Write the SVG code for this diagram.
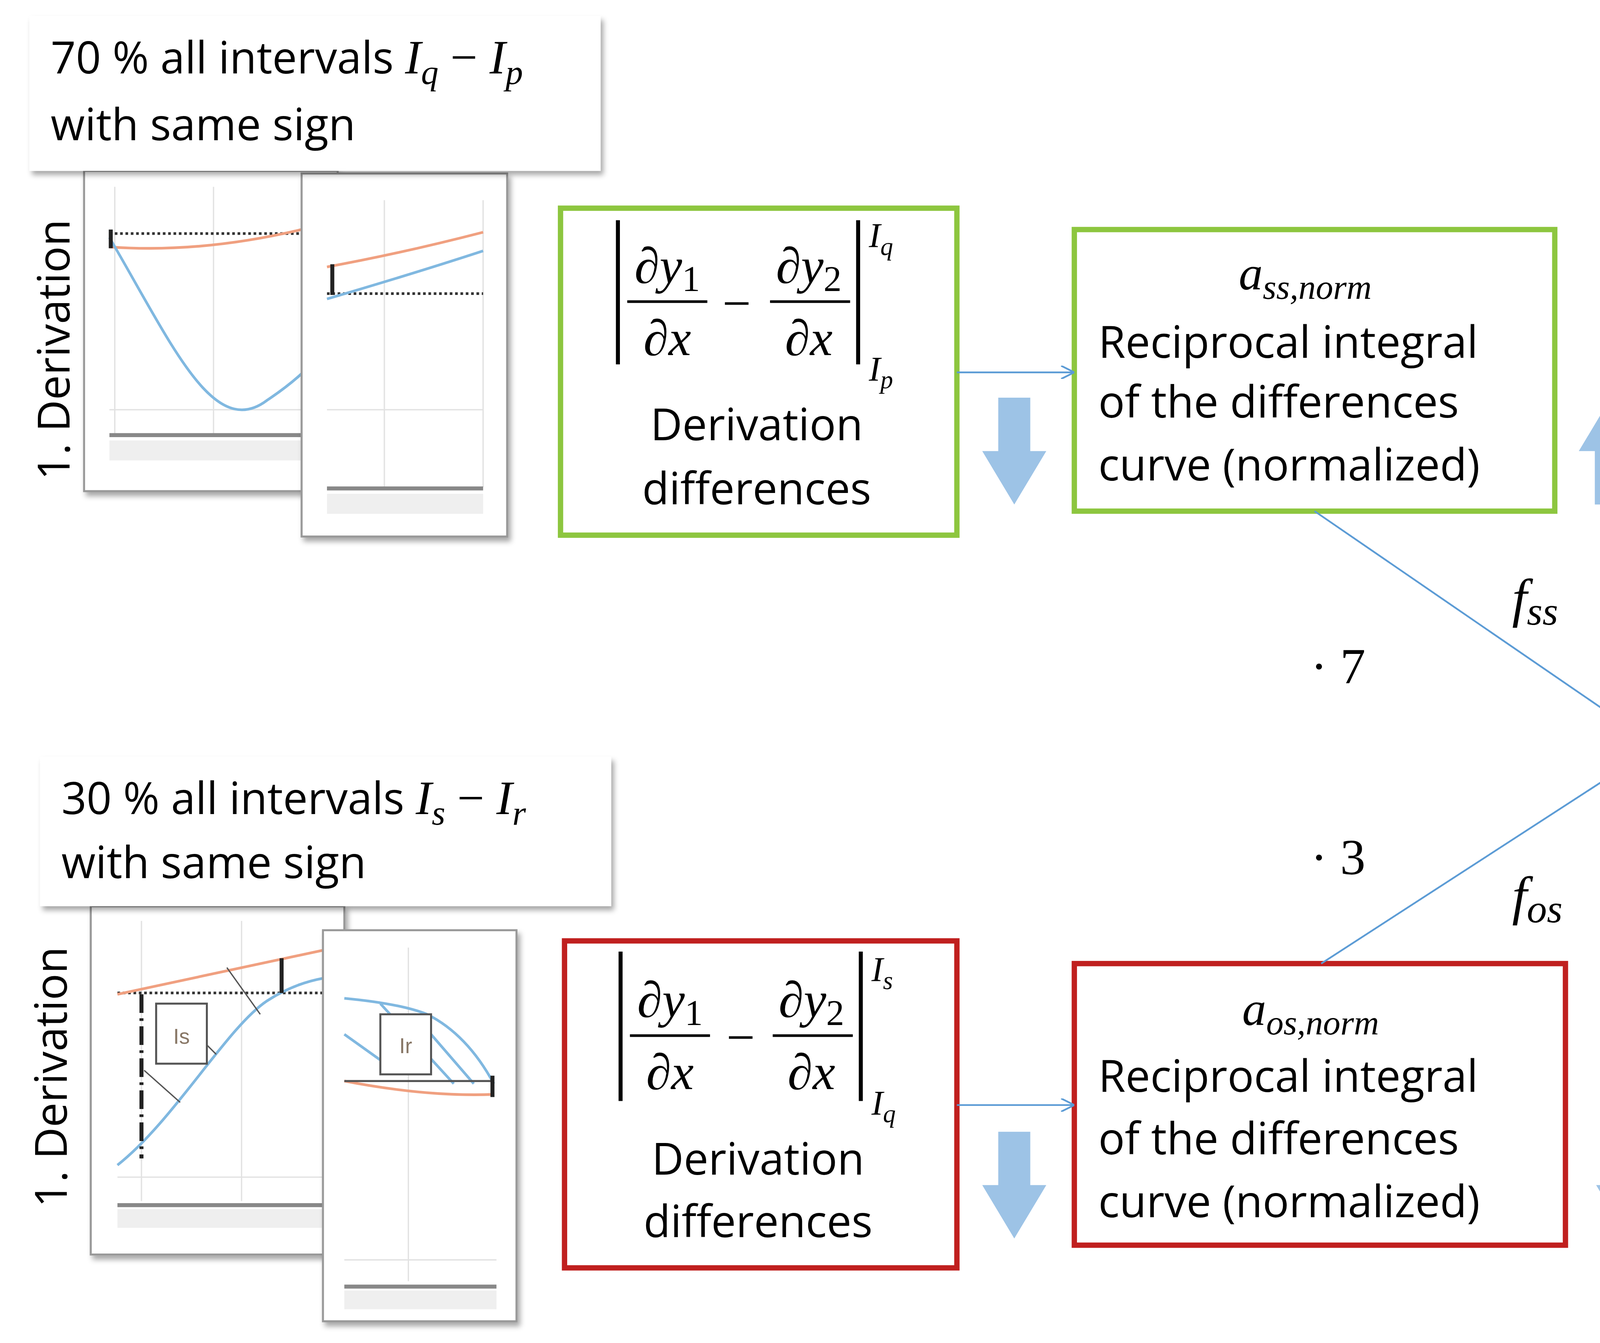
<svg xmlns="http://www.w3.org/2000/svg" width="5357" height="3438" viewBox="0 0 5357 3438">
<defs>
<style>
.t{font-family:"Open Sans","Noto Sans","Liberation Sans",sans-serif;font-size:33px;fill:#000}
.m{font-family:"Liberation Serif","DejaVu Serif",serif;font-style:italic;fill:#000}
.mr{font-family:"Liberation Serif","DejaVu Serif",serif;font-style:normal;fill:#000}
.b{font-weight:bold}
.thin{stroke:#5b9bd5;stroke-width:1.3;fill:none}
.g{fill:none;stroke:#8dc63f;stroke-width:4}
.r{fill:none;stroke:#c0201f;stroke-width:4}
.k{fill:none;stroke:#000;stroke-width:4}
.grid{stroke:#e2e2e2;stroke-width:1}
.or{stroke:#f0a080;stroke-width:2;fill:none}
.bl{stroke:#80b8e0;stroke-width:2;fill:none}
.dot{stroke:#333;stroke-width:2;stroke-dasharray:2 2}
.chart{fill:#fff;stroke:#999;stroke-width:1.5}
</style>
<filter id="sh" x="-10%" y="-10%" width="130%" height="130%"><feDropShadow dx="2" dy="3" stdDeviation="2" flood-color="#000" flood-opacity="0.35"/></filter>
<marker id="ah" viewBox="0 0 10 10" refX="10" refY="5" markerWidth="10" markerHeight="10" markerUnits="userSpaceOnUse" orient="auto"><path d="M0,0L10,5L0,10" fill="none" stroke="#5b9bd5" stroke-width="1.3"/></marker>
<path id="up" d="M-12,40V0H-24L0,-40L24,0H12V40Z" fill="#9dc3e6"/>
<path id="dn" d="M-12,-40V0H-24L0,40L24,0H12V-40Z" fill="#9dc3e6"/>
</defs>
<g transform="scale(3.4165)">
<g id="charts-top">
<rect class="chart" x="63" y="128" width="190" height="240" filter="url(#sh)"/>
<line class="grid" x1="86" y1="140" x2="86" y2="325"/><line class="grid" x1="160" y1="140" x2="160" y2="325"/><line class="grid" x1="82" y1="307" x2="226" y2="307"/>
<line class="dot" x1="82" y1="175" x2="226" y2="175"/>
<path class="or" d="M82,185 Q150,190 226,172"/>
<path class="bl" d="M82,178 C130,260 160,330 200,300 Q215,290 226,280"/>
<line x1="83" y1="172" x2="83" y2="186" stroke="#222" stroke-width="3"/>
<line x1="82" y1="326" x2="226" y2="326" stroke="#888" stroke-width="3"/>
<rect x="82" y="330" width="144" height="15" fill="#efefef"/>
<rect class="chart" x="226" y="130" width="154" height="272" filter="url(#sh)"/>
<line class="grid" x1="288" y1="150" x2="288" y2="365"/><line class="grid" x1="362" y1="150" x2="362" y2="365"/><line class="grid" x1="245" y1="307" x2="362" y2="307"/>
<line class="dot" x1="245" y1="220" x2="362" y2="220" stroke="#777"/>
<path class="or" d="M245,200 Q300,190 362,174"/>
<path class="bl" d="M245,224 Q310,205 362,188"/>
<line x1="249" y1="198" x2="249" y2="221" stroke="#222" stroke-width="3"/>
<line x1="245" y1="366" x2="362" y2="366" stroke="#888" stroke-width="3"/>
<rect x="245" y="370" width="117" height="15" fill="#efefef"/>
<text class="t" transform="translate(52,262) rotate(-90)" text-anchor="middle" font-size="32">1. Derivation</text>
</g>
<g id="label-top">
<rect x="22" y="12" width="428" height="116" fill="#fff" filter="url(#sh)"/>
<text class="t" x="38" y="55">70 % all intervals <tspan class="m" font-size="36">I</tspan><tspan class="m" font-size="26" dy="8">q</tspan><tspan class="mr" font-size="36" dy="-8"> − </tspan><tspan class="m" font-size="36">I</tspan><tspan class="m" font-size="26" dy="8">p</tspan></text>
<text class="t" x="38" y="105">with same sign</text>
</g>
<g id="charts-bottom">
<rect class="chart" x="68" y="679" width="190" height="261" filter="url(#sh)"/>
<line class="grid" x1="106" y1="690" x2="106" y2="900"/><line class="grid" x1="181" y1="690" x2="181" y2="900"/><line class="grid" x1="88" y1="882" x2="242" y2="882"/>
<line class="dot" x1="88" y1="744" x2="242" y2="744"/>
<path class="or" d="M88,745 L242,712"/>
<path class="bl" d="M88,873 C130,840 170,770 200,750 Q220,737 242,733"/>
<line x1="106" y1="745" x2="106" y2="868" stroke="#222" stroke-width="3" stroke-dasharray="14 4 2 4"/>
<line x1="211" y1="718" x2="211" y2="744" stroke="#222" stroke-width="3"/>
<path d="M108,802 L135,826 M170,725 L195,760 M150,778 L162,790" stroke="#555" stroke-width="1" fill="none"/>
<rect x="117" y="752" width="38" height="45" fill="#fff" stroke="#555" stroke-width="1.5"/>
<text x="136" y="782" text-anchor="middle" font-family="Liberation Sans,sans-serif" font-size="16" fill="#876">Is</text>
<line x1="88" y1="903" x2="242" y2="903" stroke="#888" stroke-width="3"/>
<rect x="88" y="906" width="154" height="14" fill="#efefef"/>
<rect class="chart" x="242" y="697" width="145" height="293" filter="url(#sh)"/>
<line class="grid" x1="306" y1="710" x2="306" y2="960"/><line class="grid" x1="258" y1="944" x2="372" y2="944"/>
<path class="bl" d="M258,748 Q300,752 320,760 Q350,775 370,812"/>
<path class="bl" d="M258,775 L300,805 M285,752 L340,812 M310,760 L355,812" stroke-width="1"/>
<path class="or" d="M258,810 Q320,822 370,820"/>
<line x1="258" y1="810" x2="370" y2="810" stroke="#555" stroke-width="1.5"/>
<line x1="369" y1="806" x2="369" y2="822" stroke="#222" stroke-width="3"/>
<rect x="285" y="760" width="38" height="45" fill="#fff" stroke="#555" stroke-width="1.5"/>
<text x="304" y="789" text-anchor="middle" font-family="Liberation Sans,sans-serif" font-size="16" fill="#876">Ir</text>
<line x1="258" y1="964" x2="372" y2="964" stroke="#888" stroke-width="3"/>
<rect x="258" y="967" width="114" height="14" fill="#efefef"/>
<text class="t" transform="translate(50,807) rotate(-90)" text-anchor="middle" font-size="32">1. Derivation</text>
</g>
<g id="label-bottom">
<rect x="30" y="567" width="428" height="112" fill="#fff" filter="url(#sh)"/>
<text class="t" x="46" y="610">30 % all intervals <tspan class="m" font-size="36">I</tspan><tspan class="m" font-size="26" dy="8">s</tspan><tspan class="mr" font-size="36" dy="-8"> − </tspan><tspan class="m" font-size="36">I</tspan><tspan class="m" font-size="26" dy="8">r</tspan></text>
<text class="t" x="46" y="658">with same sign</text>
</g>
<g id="deriv-top">
<rect class="g" x="420" y="156" width="297" height="245"/>
<line x1="463" y1="165" x2="463" y2="273" stroke="#000" stroke-width="3"/>
<text class="m" x="500" y="212" font-size="38" text-anchor="middle">∂y<tspan class="mr" font-size="27" dy="6">1</tspan></text>
<line x1="470" y1="226" x2="530" y2="226" stroke="#000" stroke-width="2"/>
<text class="m" x="500" y="266" font-size="38" text-anchor="middle">∂x</text>
<text class="mr" x="552" y="240" font-size="38" text-anchor="middle">−</text>
<text class="m" x="606" y="212" font-size="38" text-anchor="middle">∂y<tspan class="mr" font-size="27" dy="6">2</tspan></text>
<line x1="577" y1="226" x2="637" y2="226" stroke="#000" stroke-width="2"/>
<text class="m" x="606" y="266" font-size="38" text-anchor="middle">∂x</text>
<line x1="643" y1="165" x2="643" y2="273" stroke="#000" stroke-width="3"/>
<text class="m" x="651" y="185" font-size="26">I<tspan font-size="19" dy="6">q</tspan></text>
<text class="m" x="651" y="285" font-size="26">I<tspan font-size="19" dy="6">p</tspan></text>
<text class="t" x="567" y="330" text-anchor="middle">Derivation</text>
<text class="t" x="567" y="378" text-anchor="middle">differences</text>
</g>
<g id="recip-top">
<rect class="g" x="805" y="172" width="360" height="211"/>
<text class="m" x="978" y="217" font-size="36" text-anchor="middle">a<tspan font-size="26" dy="7">ss,norm</tspan></text>
<text class="t" x="823" y="268">Reciprocal integral</text>
<text class="t" x="823" y="313">of the differences</text>
<text class="t" x="823" y="360">curve (normalized)</text>
</g>
<g id="deriv-bottom">
<rect class="r" x="423" y="705" width="294" height="245"/>
<line x1="465" y1="713" x2="465" y2="825" stroke="#000" stroke-width="3"/>
<text class="m" x="502" y="762" font-size="38" text-anchor="middle">∂y<tspan class="mr" font-size="27" dy="6">1</tspan></text>
<line x1="472" y1="776" x2="532" y2="776" stroke="#000" stroke-width="2"/>
<text class="m" x="502" y="816" font-size="38" text-anchor="middle">∂x</text>
<text class="mr" x="555" y="790" font-size="38" text-anchor="middle">−</text>
<text class="m" x="608" y="762" font-size="38" text-anchor="middle">∂y<tspan class="mr" font-size="27" dy="6">2</tspan></text>
<line x1="579" y1="776" x2="639" y2="776" stroke="#000" stroke-width="2"/>
<text class="m" x="608" y="816" font-size="38" text-anchor="middle">∂x</text>
<line x1="645" y1="713" x2="645" y2="825" stroke="#000" stroke-width="3"/>
<text class="m" x="653" y="735" font-size="26">I<tspan font-size="19" dy="6">s</tspan></text>
<text class="m" x="653" y="835" font-size="26">I<tspan font-size="19" dy="6">q</tspan></text>
<text class="t" x="568" y="880" text-anchor="middle">Derivation</text>
<text class="t" x="568" y="927" text-anchor="middle">differences</text>
</g>
<g id="recip-bottom">
<rect class="r" x="805" y="722" width="368" height="211"/>
<text class="m" x="982" y="768" font-size="36" text-anchor="middle">a<tspan font-size="26" dy="7">os,norm</tspan></text>
<text class="t" x="823" y="818">Reciprocal integral</text>
<text class="t" x="823" y="865">of the differences</text>
<text class="t" x="823" y="912">curve (normalized)</text>
</g>
<g id="sum">
<rect class="k" x="1240" y="463" width="267" height="188"/>
<text class="m" x="1268" y="570" font-size="40">a<tspan font-size="30" dy="8">sum</tspan></text>
<line x1="1377" y1="565" x2="1502" y2="565" stroke="#000" stroke-width="4"/>
<rect x="1420" y="488" width="38" height="65" fill="none" stroke="#70ad47" stroke-width="4"/>
<rect x="1420" y="577" width="38" height="65" fill="none" stroke="#c55a11" stroke-width="4"/>
</g>
<g id="legend">
<rect class="k" x="1284" y="698" width="240" height="234"/>
<use href="#up" x="1320" y="751"/>
<use href="#dn" x="1320" y="875"/>
<text class="t" x="1347" y="752" font-size="36">high</text>
<text class="t b" x="1352" y="808">numerical</text>
<text class="t b" x="1352" y="856">value</text>
<text class="t" x="1347" y="912" font-size="36">low</text>
</g>
<g id="block-arrows">
<use href="#dn" x="760" y="338"/>
<use href="#up" x="1207" y="338"/>
<use href="#up" x="1545" y="612"/>
<use href="#dn" x="760" y="888"/>
<use href="#dn" x="1220" y="888"/>
</g>
<g id="connectors">
<line class="thin" x1="717" y1="279" x2="805" y2="279" marker-end="url(#ah)"/>
<line class="thin" x1="717" y1="828" x2="805" y2="828" marker-end="url(#ah)"/>
<line class="thin" x1="985" y1="383" x2="1240" y2="558" marker-end="url(#ah)"/>
<line class="thin" x1="990" y1="722" x2="1240" y2="560" marker-end="url(#ah)"/>
<text class="m" x="1133" y="462" font-size="40">f<tspan font-size="30" dy="6">ss</tspan></text>
<text class="m" x="1133" y="685" font-size="40">f<tspan font-size="30" dy="6">os</tspan></text>
<text class="mr" x="982" y="512" font-size="38">· 7</text>
<text class="mr" x="982" y="655" font-size="38">· 3</text>
</g>
</g>
</svg>
